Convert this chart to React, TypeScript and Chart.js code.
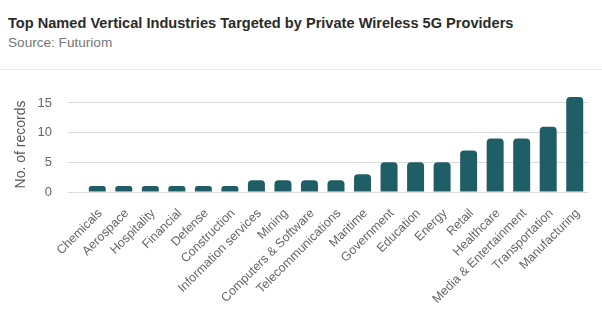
import React, { useEffect, useRef } from "react";
import { Chart, registerables } from "chart.js";

Chart.register(...registerables);

const categories = [
  "Chemicals",
  "Aerospace",
  "Hospitality",
  "Financial",
  "Defense",
  "Construction",
  "Information services",
  "Mining",
  "Computers & Software",
  "Telecommunications",
  "Maritime",
  "Government",
  "Education",
  "Energy",
  "Retail",
  "Healthcare",
  "Media & Entertainment",
  "Transportation",
  "Manufacturing",
];

const records = [1, 1, 1, 1, 1, 1, 2, 2, 2, 2, 3, 5, 5, 5, 7, 9, 9, 11, 16];

const yTicks = [0, 5, 10, 15];

const FONT = "'Liberation Sans', Arial, Helvetica, sans-serif";

export default function App() {
  const ref = useRef<HTMLCanvasElement | null>(null);

  useEffect(() => {
    document.body.style.margin = "0";
    const canvas = ref.current;
    if (!canvas) return;
    const chart = new Chart(canvas, {
      type: "bar",
      data: {
        labels: categories,
        datasets: [
          {
            label: "No. of records",
            data: records,
            backgroundColor: "#1f5e67",
            borderRadius: 4,
            borderSkipped: "start",
            categoryPercentage: 1,
            barPercentage: 0.64,
          },
        ],
      },
      options: {
        animation: false,
        responsive: false,
        maintainAspectRatio: false,
        layout: { padding: { left: 0, right: 14, top: 27, bottom: 0 } },
        plugins: {
          legend: { display: false },
          tooltip: { enabled: false },
          title: { display: false },
        },
        scales: {
          x: {
            grid: { display: false, drawTicks: false },
            border: { display: false },
            ticks: {
              autoSkip: false,
              maxRotation: 45,
              minRotation: 45,
              padding: 14,
              labelOffset: 3,
              color: "#666",
              font: { family: FONT, size: 12.5 },
            },
            afterFit: (scale: any) => {
              scale.height = 131;
            },
          },
          y: {
            min: 0,
            max: 16,
            afterBuildTicks: (scale: any) => {
              scale.ticks = yTicks.map((v) => ({ value: v }));
            },
            grid: {
              color: "#dcdcdc",
              lineWidth: 1,
              drawTicks: true,
              tickLength: 16,
            },
            border: { display: false },
            ticks: {
              padding: 16,
              color: "#666",
              font: { family: FONT, size: 13 },
            },
            title: {
              display: true,
              text: "No. of records",
              color: "#555",
              font: { family: FONT, size: 14 },
              padding: { top: 13, bottom: 0 },
            },
            afterFit: (scale: any) => {
              scale.width = 84;
            },
          },
        },
      },
    });
    return () => chart.destroy();
  }, []);

  return (
    <div style={{ position: "relative", width: 602, height: 323, background: "#fff", fontFamily: FONT }}>
      <div
        style={{
          position: "absolute",
          left: 8,
          top: 15,
          fontSize: 14.6,
          lineHeight: "17px",
          fontWeight: 700,
          color: "#2b2b2b",
          whiteSpace: "nowrap",
        }}
      >
        Top Named Vertical Industries Targeted by Private Wireless 5G Providers
      </div>
      <div
        style={{
          position: "absolute",
          left: 8,
          top: 35,
          fontSize: 13.6,
          lineHeight: "16px",
          color: "#777",
          whiteSpace: "nowrap",
        }}
      >
        Source: Futuriom
      </div>
      <div
        style={{
          position: "absolute",
          left: 0,
          top: 69,
          width: 602,
          height: 1,
          background: "#ebebeb",
        }}
      />
      <canvas
        ref={ref}
        width={602}
        height={253}
        style={{ position: "absolute", left: 0, top: 70, width: 602, height: 253 }}
      />
    </div>
  );
}
